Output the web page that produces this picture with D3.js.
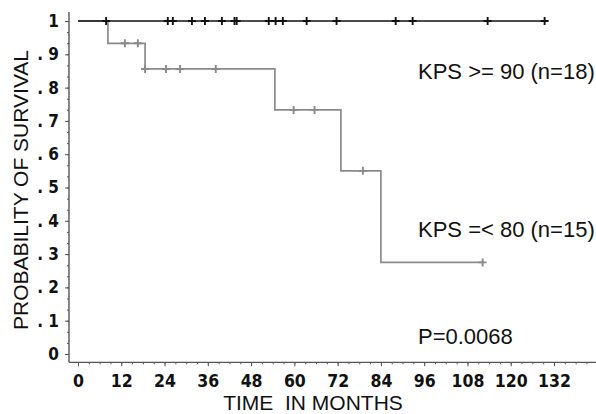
<!DOCTYPE html>
<html>
<head>
<meta charset="utf-8">
<title>KM survival by KPS</title>
<script src="https://cdn.jsdelivr.net/npm/d3@7"></script>
<style>
  body { margin: 0; background: #fff; }
  .lbl { font-family: "Liberation Sans", Arial, sans-serif; fill: #111; }
</style>
</head>
<body>
<script>
// KPS >= 90 : no events, censored times (months)
var hiSteps = [[0, 1], [130, 1]];
var hiCensor = [7.8, 24.9, 26.3, 31.6, 35.2, 39.9, 43.4, 44.0, 52.9, 54.8, 56.8, 63.4, 71.7, 88.1, 92.8, 113.6, 129.4];

// KPS =< 80 : step points [time, survival]
var loSteps = [[0, 1], [8.3, 0.933], [18.6, 0.856], [54.6, 0.733], [72.9, 0.55], [84.0, 0.275], [112.2, 0.275]];
var loCensor = [[13.0, 0.933], [16.6, 0.933], [18.6, 0.856], [24.4, 0.856], [28.3, 0.856], [38.2, 0.856],
                [59.8, 0.733], [65.6, 0.733], [79.0, 0.55], [112.2, 0.275]];

var xTicks = [0, 12, 24, 36, 48, 60, 72, 84, 96, 108, 120, 132];
var yTicks = [0, 0.1, 0.2, 0.3, 0.4, 0.5, 0.6, 0.7, 0.8, 0.9, 1];
var yTickLabels = ["0", ". 1", ". 2", ". 3", ". 4", ". 5", ". 6", ". 7", ". 8", ". 9", "1"];

var W = 596, H = 414;
var svg = d3.select("body").append("svg").attr("width", W).attr("height", H);

var x = d3.scaleLinear().domain([0, 132]).range([78, 554]);
var y = d3.scaleLinear().domain([0, 1]).range([354, 21]);

var axisColor = "#555";
var tickFont = '"DejaVu Sans Condensed", "Liberation Sans Narrow", sans-serif';

// axis lines
svg.append("line").attr("x1", x(-2.5)).attr("x2", W).attr("y1", y(-0.025)).attr("y2", y(-0.025))
  .attr("stroke", axisColor).attr("stroke-width", 1.4);
svg.append("line").attr("x1", x(-2.5)).attr("x2", x(-2.5)).attr("y1", y(-0.025)).attr("y2", y(1.027))
  .attr("stroke", axisColor).attr("stroke-width", 1.4);

// x axis
var xMinor = d3.range(0, 145, 3);
var gxm = svg.append("g").attr("transform", "translate(0," + y(-0.025) + ")")
  .call(d3.axisBottom(x).tickValues(xMinor).tickSize(2).tickFormat(""));
var gx = svg.append("g").attr("transform", "translate(0," + y(-0.025) + ")")
  .call(d3.axisBottom(x).tickValues(xTicks).tickSize(4).tickPadding(8).tickFormat(d3.format("d")));
[gxm, gx].forEach(function(g) {
  g.select(".domain").remove();
  g.selectAll("line").attr("stroke", axisColor);
});
gx.selectAll("text").style("font-family", tickFont).style("font-weight", "bold")
  .style("font-size", "17.5px").attr("fill", "#111");

// y axis
var yMinor = d3.range(0, 31).map(function(i) { return i / 30; });
var gym = svg.append("g").attr("transform", "translate(" + x(-2.5) + ",0)")
  .call(d3.axisLeft(y).tickValues(yMinor).tickSize(2).tickFormat(""));
var gy = svg.append("g").attr("transform", "translate(" + x(-2.5) + ",0)")
  .call(d3.axisLeft(y).tickValues(yTicks).tickSize(4).tickPadding(6)
    .tickFormat(function(d, i) { return yTickLabels[i]; }));
[gym, gy].forEach(function(g) {
  g.select(".domain").remove();
  g.selectAll("line").attr("stroke", axisColor);
});
gy.selectAll("text").style("font-family", tickFont).style("font-weight", "bold")
  .style("font-size", "17px").attr("fill", "#111").style("white-space", "pre");

// survival curves
var line = d3.line().x(function(d) { return x(d[0]); }).y(function(d) { return y(d[1]); }).curve(d3.curveStepAfter);

svg.append("path").datum(loSteps).attr("d", line).attr("fill", "none")
  .attr("stroke", "#8a8a8a").attr("stroke-width", 1.7);
svg.append("path").datum(hiSteps).attr("d", line).attr("fill", "none")
  .attr("stroke", "#111").attr("stroke-width", 1.7);

function censor(data, color) {
  svg.selectAll(null).data(data).enter().append("path")
    .attr("transform", function(d) { return "translate(" + x(d[0]) + "," + y(d[1]) + ")"; })
    .attr("d", d3.line()([[-4, 0], [4, 0], [0, 0], [0, -4], [0, 4]]))
    .attr("fill", "none").attr("stroke", color).attr("stroke-width", 1.9);
}
censor(loCensor, "#8a8a8a");
censor(hiCensor.map(function(t) { return [t, 1]; }), "#111");

// labels
svg.append("text").attr("class", "lbl").attr("x", 418).attr("y", 79).attr("font-size", 22)
  .text("KPS >= 90 (n=18)");
svg.append("text").attr("class", "lbl").attr("x", 418).attr("y", 237).attr("font-size", 22)
  .text("KPS =< 80 (n=15)");
svg.append("text").attr("class", "lbl").attr("x", 418).attr("y", 344).attr("font-size", 22)
  .text("P=0.0068");

svg.append("text").attr("class", "lbl").attr("transform", "translate(28,190) rotate(-90)")
  .attr("text-anchor", "middle").attr("font-size", 21).text("PROBABILITY OF SURVIVAL");
svg.append("text").attr("class", "lbl").attr("x", 313).attr("y", 410).attr("text-anchor", "middle")
  .attr("font-size", 21).style("white-space", "pre").text("TIME  IN MONTHS");
</script>
</body>
</html>
